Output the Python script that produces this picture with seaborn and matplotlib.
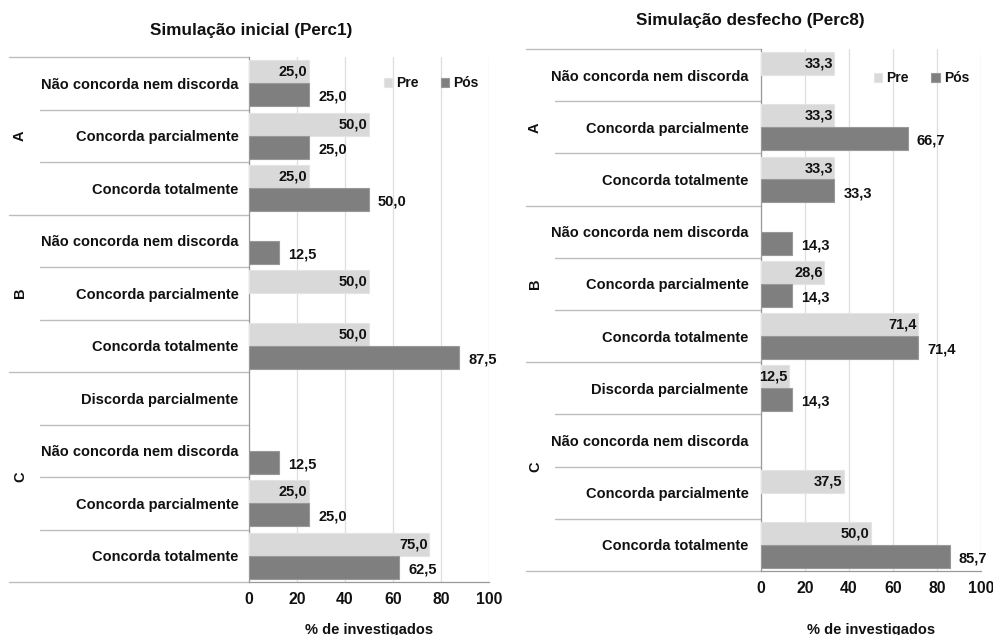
import matplotlib
matplotlib.use("Agg")
import matplotlib.pyplot as plt
from matplotlib.transforms import blended_transform_factory
import numpy as np
import pandas as pd
import seaborn as sns

# ---- data -------------------------------------------------------------
momentos = ["Pre", "Pós"]

grupos_inicial = ["A", "A", "A", "B", "B", "B", "C", "C", "C", "C"]
respostas_inicial = [
    "Não concorda nem discorda", "Concorda parcialmente", "Concorda totalmente",
    "Não concorda nem discorda", "Concorda parcialmente", "Concorda totalmente",
    "Discorda parcialmente", "Não concorda nem discorda",
    "Concorda parcialmente", "Concorda totalmente",
]
pre_inicial = [25.0, 50.0, 25.0, None, 50.0, 50.0, None, None, 25.0, 75.0]
pos_inicial = [25.0, 25.0, 50.0, 12.5, None, 87.5, None, 12.5, 25.0, 62.5]

grupos_desfecho = ["A", "A", "A", "B", "B", "B", "C", "C", "C", "C"]
respostas_desfecho = [
    "Não concorda nem discorda", "Concorda parcialmente", "Concorda totalmente",
    "Não concorda nem discorda", "Concorda parcialmente", "Concorda totalmente",
    "Discorda parcialmente", "Não concorda nem discorda",
    "Concorda parcialmente", "Concorda totalmente",
]
pre_desfecho = [33.3, 33.3, 33.3, None, 28.6, 71.4, 12.5, None, 37.5, 50.0]
pos_desfecho = [None, 66.7, 33.3, 14.3, 14.3, 71.4, 14.3, None, None, 85.7]

x_ticks = [0, 20, 40, 60, 80, 100]

# ---- style ------------------------------------------------------------
sns.set_theme(style="white")
plt.rcParams["font.family"] = ["Liberation Sans", "DejaVu Sans"]
plt.rcParams["font.weight"] = "bold"

cores = {"Pre": "#d9d9d9", "Pós": "#7f7f7f"}
bordas = {"Pre": "#e4e4e4", "Pós": "#999999"}
linha_sep = "#bdbdbd"
texto = "#111111"
FS = 10.5
BAR_W = 0.88


def fmt(v):
    return f"{v:.1f}".replace(".", ",")


def painel(ax, grupos, respostas, pre, pos, sep_row_x, sep_group_x, letra_x,
           leg_xy, xlabel_pad, ypad):
    n = len(respostas)
    ids = [f"{g}{i}" for i, g in enumerate(grupos)]
    linhas = []
    for i, rid in enumerate(ids):
        for mom, vals in (("Pre", pre), ("Pós", pos)):
            if vals[i] is not None:
                linhas.append({"linha": rid, "momento": mom, "pct": vals[i]})
    df = pd.DataFrame(linhas)

    sns.barplot(data=df, y="linha", x="pct", hue="momento", order=ids,
                hue_order=momentos, palette=cores, saturation=1,
                width=BAR_W, orient="h", ax=ax, errorbar=None, zorder=3)
    for patch in ax.patches:
        fc = patch.get_facecolor()
        key = "Pre" if fc[0] > 0.7 else "Pós"
        patch.set_edgecolor(bordas[key])
        patch.set_linewidth(0.8)

    # value labels
    off = BAR_W / 4
    for i in range(n):
        if pre[i] is not None:
            ax.annotate(fmt(pre[i]), (pre[i], i - off), xytext=(-1, 0),
                        textcoords="offset points", ha="right", va="center",
                        fontsize=FS, fontweight="bold", color=texto,
                        zorder=5)
        if pos[i] is not None:
            ax.annotate(fmt(pos[i]), (pos[i], i + off), xytext=(6.5, -1.5),
                        textcoords="offset points", ha="left", va="center",
                        fontsize=FS, fontweight="bold", color=texto,
                        zorder=5, annotation_clip=False)

    ax.set_xlim(0, 100)
    ax.set_ylim(n - 0.5, -0.5)
    ax.set_xticks(x_ticks)
    ax.set_xticklabels([str(t) for t in x_ticks], fontsize=11.3,
                       fontweight="bold")
    ax.set_yticks(range(n))
    ax.set_yticklabels(respostas, fontsize=FS, fontweight="bold")
    ax.tick_params(axis="y", length=0, pad=ypad, colors=texto)
    ax.tick_params(axis="x", length=3.5, width=0.8, color="#999999",
                   direction="out", pad=4, labelcolor=texto)
    ax.set_ylabel("")
    ax.set_xlabel("% de investigados", fontsize=FS, fontweight="bold",
                  labelpad=xlabel_pad, color=texto)

    ax.xaxis.grid(True, color="#dedede", lw=0.9)
    ax.yaxis.grid(False)
    ax.set_axisbelow(True)
    for s in ("top", "right"):
        ax.spines[s].set_visible(False)
    for s in ("left", "bottom"):
        ax.spines[s].set_color("#999999")
        ax.spines[s].set_linewidth(0.9)

    # row and group separators in the label area
    tr = blended_transform_factory(ax.transAxes, ax.transData)
    inicio = [i for i in range(n) if i == 0 or grupos[i] != grupos[i - 1]]
    for i in range(n):
        y = i - 0.5
        x0 = sep_group_x if i in inicio else sep_row_x
        ax.plot([x0, 0], [y, y], transform=tr, color=linha_sep, lw=1.0,
                clip_on=False, zorder=1)
    ax.plot([sep_group_x, 0], [n - 0.5, n - 0.5], transform=tr,
            color=linha_sep, lw=1.0, clip_on=False, zorder=1)

    # group letters
    for k, g in enumerate(inicio):
        fim = inicio[k + 1] if k + 1 < len(inicio) else n
        yc = (g + fim - 1) / 2
        ax.text(letra_x, yc, grupos[g], transform=tr, rotation=90,
                ha="center", va="center", fontsize=FS, fontweight="bold",
                color=texto)

    handles, labels = ax.get_legend_handles_labels()
    leg = ax.legend(handles, labels, loc="center", bbox_to_anchor=leg_xy,
                    ncol=2, frameon=False, fontsize=10, handlelength=0.6,
                    handleheight=0.6, handletextpad=0.3, columnspacing=1.6)
    for t in leg.get_texts():
        t.set_color(texto)


W, H = 993, 635
fig = plt.figure(figsize=(W / 100, H / 100), dpi=100)
ax1 = fig.add_axes([249 / W, (H - 582) / H, 240 / W, 525 / H])
ax2 = fig.add_axes([761 / W, (H - 571) / H, 220 / W, 522 / H])

painel(ax1, grupos_inicial, respostas_inicial, pre_inicial, pos_inicial,
       sep_row_x=(40 - 249) / 240, sep_group_x=(9 - 249) / 240,
       letra_x=(20 - 249) / 240, leg_xy=(0.76, 0.95), xlabel_pad=11,
       ypad=7.5)
painel(ax2, grupos_desfecho, respostas_desfecho, pre_desfecho, pos_desfecho,
       sep_row_x=(555 - 761) / 220, sep_group_x=(526 - 761) / 220,
       letra_x=(535 - 761) / 220, leg_xy=(0.73, 0.944), xlabel_pad=19,
       ypad=9)

fig.text(251 / W, 1 - 30 / H, "Simulação inicial (Perc1)", ha="center",
         va="center", fontsize=12.3, fontweight="bold", color=texto)
fig.text(750 / W, 1 - 20 / H, "Simulação desfecho (Perc8)", ha="center",
         va="center", fontsize=12.3, fontweight="bold", color=texto)

fig.savefig("out.png", dpi=100, facecolor="white")
